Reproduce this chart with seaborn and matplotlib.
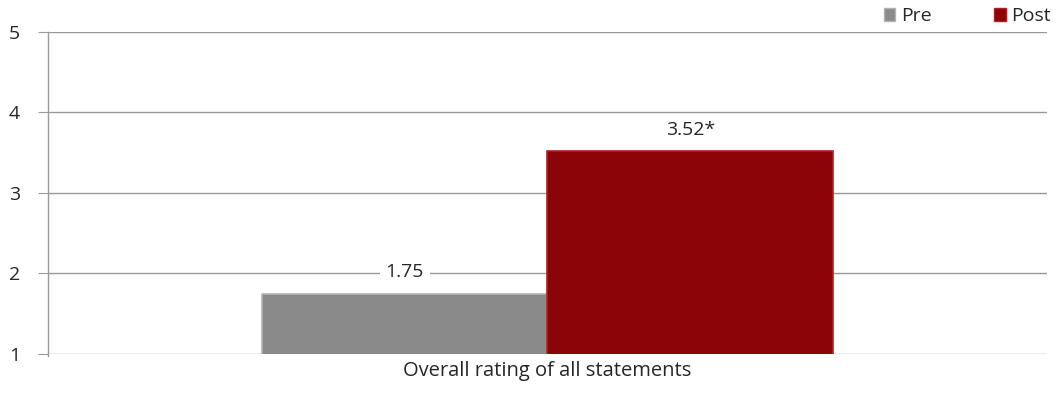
import pandas as pd
import matplotlib.pyplot as plt
import seaborn as sns

category = ["Overall rating of all statements"]
groups = ["Pre", "Post"]
ratings = [1.75, 3.52]
value_labels = ["1.75", "3.52*"]
y_ticks = [1, 2, 3, 4, 5]

df = pd.DataFrame({
    "category": category * len(groups),
    "group": groups,
    "rating": ratings,
})

sns.set_style("white")
plt.rcParams['font.family'] = ['Open Sans', 'DejaVu Sans']

fig = plt.figure(figsize=(10.6, 4.05), dpi=100)
ax = fig.add_axes([0.045, 0.126, 0.943, 0.795])

palette = {"Pre": "#8a8a8a", "Post": "#8b0508"}
edges = {"Pre": "#b3b3b3", "Post": "#b02020"}
sns.barplot(data=df, x="category", y="rating", hue="group", palette=palette,
            width=0.572, saturation=1, ax=ax, legend=False, zorder=3)

for patch, grp in zip(ax.patches, groups):
    patch.set_edgecolor(edges[grp])
    patch.set_linewidth(1.2)

ax.set_ylim(1, 5)
ax.set_xlim(-0.5, 0.5)
ax.set_yticks(y_ticks)
ax.set_yticklabels([str(t) for t in y_ticks], fontsize=14)
ax.tick_params(axis='y', length=7, color="#999999", pad=13, direction='out', left=True)
ax.tick_params(axis='x', length=0, pad=5, labelsize=14.5)
ax.yaxis.grid(True, color="#999999", linewidth=1, zorder=0)
ax.set_axisbelow(True)
ax.set_xlabel("")
ax.set_ylabel("")
for side in ["top", "right", "bottom"]:
    ax.spines[side].set_visible(False)
ax.spines["left"].set_color("#999999")
ax.spines["left"].set_bounds(0.97, 5)
ax.spines["left"].set_linewidth(1)

for patch, lab in zip(ax.patches, value_labels):
    x = patch.get_x() + patch.get_width() / 2
    ax.annotate(lab, (x, patch.get_height()), xytext=(0, 15.5),
                textcoords="offset points", ha="center", va="center",
                fontsize=14, zorder=5,
                bbox=dict(boxstyle="square,pad=0.3", fc="white", ec="none"))

handles = [plt.Rectangle((0, 0), 1, 1, fc=palette[g], ec=edges[g]) for g in groups]
fig.legend(handles, groups, loc="upper right", bbox_to_anchor=(1.008, 1.025), ncol=2,
           frameon=False, fontsize=14, handlelength=0.6, handleheight=0.6,
           handletextpad=0.3, columnspacing=3.2)

plt.savefig("out.png", dpi=100)
